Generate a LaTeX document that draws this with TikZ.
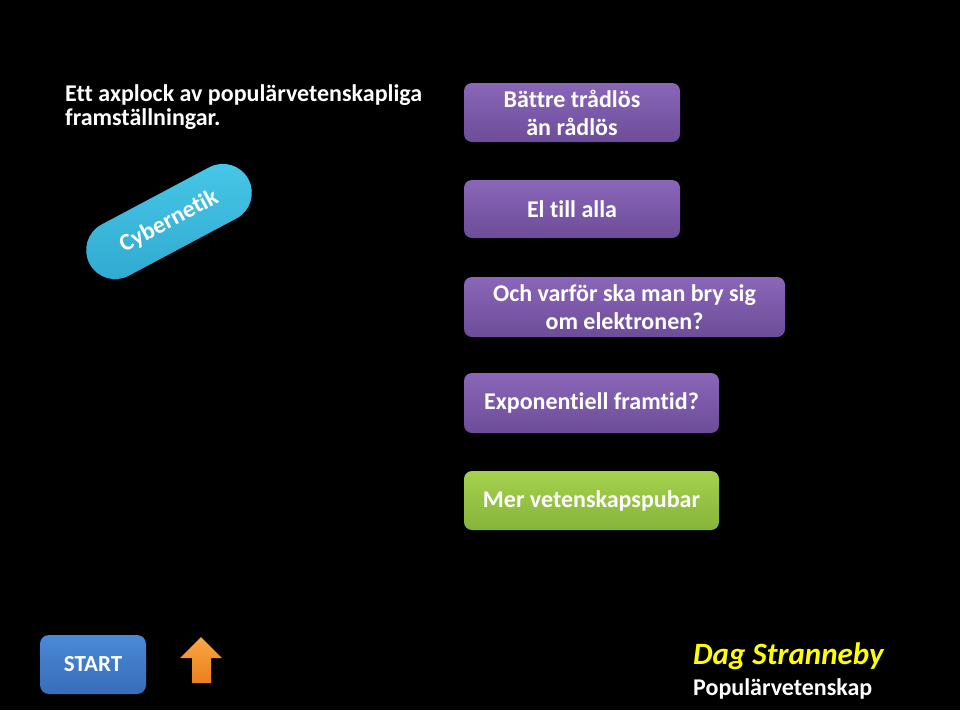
\documentclass[tikz,border=0pt]{standalone}
\usepackage{fontspec}
\setmainfont{Carlito}[Ligatures={NoCommon}]
\definecolor{purpT}{HTML}{8A66B8}
\definecolor{purpB}{HTML}{6C4D99}
\definecolor{greenT}{HTML}{A6D14F}
\definecolor{greenB}{HTML}{86B43A}
\definecolor{cyanT}{HTML}{48C8E8}
\definecolor{cyanB}{HTML}{2FA8CF}
\definecolor{blueT}{HTML}{4A8AD8}
\definecolor{blueB}{HTML}{386CB8}
\definecolor{orT}{HTML}{FBA645}
\definecolor{orB}{HTML}{E9801C}
\definecolor{sigyellow}{HTML}{FFFF00}
\begin{document}
\begin{tikzpicture}[x=1pt,y=-1pt,
  btn/.style={rounded corners=8pt, inner sep=0pt, align=center, text=white,
    font=\bfseries\fontsize{24}{28}\selectfont},
  purplebtn/.style={btn, top color=purpT, bottom color=purpB},
  greenbtn/.style={btn, top color=greenT, bottom color=greenB},
  txt/.style={inner sep=0pt, anchor=base west, text=white}]
\fill[black] (0,0) rectangle (960,710);
\useasboundingbox (0,0) rectangle (960,710);

\node[txt, font=\bfseries\fontsize{24}{24}\selectfont] (t1) at (65,101) {Ett axplock av populärvetenskapliga};
\node[txt, font=\bfseries\fontsize{24}{24}\selectfont] (t2) at (65,125) {framställningar.};

\node[purplebtn, minimum width=216pt, minimum height=59pt] (b1) at (572,112.5) {Bättre trådlös\\än rådlös};
\node[purplebtn, minimum width=216pt, minimum height=58pt] (b2) at (572,209) {El till alla};
\node[purplebtn, minimum width=321pt, minimum height=60pt] (b3) at (624.5,307) {Och varför ska man bry sig\\om elektronen?};
\node[purplebtn, minimum width=255pt, minimum height=60pt] (b4) at (591.5,403) {Exponentiell framtid?};
\node[greenbtn, minimum width=255pt, minimum height=59pt] (b5) at (591.5,500.5) {Mer vetenskapspubar};

\node[rounded corners=29pt, minimum width=180pt, minimum height=58pt, inner sep=0pt,
  top color=cyanT, bottom color=cyanB, text=white, rotate=28,
  font=\bfseries\fontsize{24}{24}\selectfont] (cyb) at (169,221.5) {Cybernetik};

\node[rounded corners=9pt, minimum width=106pt, minimum height=59pt, inner sep=0pt,
  top color=blueT, bottom color=blueB, text=white,
  font=\bfseries\fontsize{23}{24}\selectfont] (start) at (93,664.5) {START};

\shade[top color=orT, bottom color=orB]
  (180,658) -- (201,637) -- (222,658) -- (211,658) -- (211,683) -- (192,683) -- (192,658) -- cycle;

\node[txt, text=sigyellow, font=\bfseries\itshape\fontsize{31}{32}\selectfont] (sig) at (693,664) {Dag Stranneby};
\node[txt, font=\bfseries\fontsize{24}{24}\selectfont] (pop) at (693,695) {Populärvetenskap};
\end{tikzpicture}
\end{document}
